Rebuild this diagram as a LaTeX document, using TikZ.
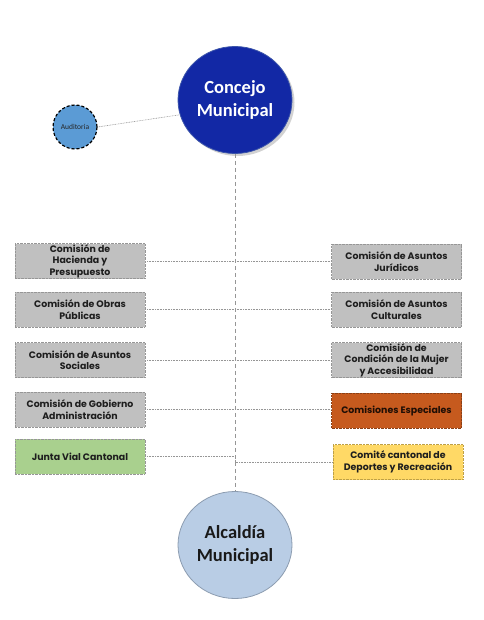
\documentclass[tikz,border=0pt]{standalone}
\usepackage{fontspec}
\setmainfont{Poppins}
\newfontfamily\carl{Carlito}
\usetikzlibrary{shapes.geometric,shadows}
\definecolor{concblue}{RGB}{18,40,165}
\definecolor{concedge}{RGB}{60,85,170}
\definecolor{alcfill}{RGB}{185,205,229}
\definecolor{alcedge}{RGB}{140,156,176}
\definecolor{audfill}{RGB}{91,155,213}
\definecolor{boxgray}{RGB}{192,192,192}
\definecolor{boxedge}{RGB}{150,150,150}
\definecolor{boxgreen}{RGB}{169,208,142}
\definecolor{boxorange}{RGB}{198,90,30}
\definecolor{boxyellow}{RGB}{255,217,102}
\definecolor{yellowedge}{RGB}{190,160,70}
\definecolor{txtdark}{RGB}{30,30,30}
\definecolor{linegray}{RGB}{150,150,150}
\begin{document}
\begin{tikzpicture}[x=1pt,y=-1pt,
  bigcirc/.style={ellipse, minimum width=114pt, minimum height=107pt, inner sep=0pt, align=center,
    font=\carl\bfseries\fontsize{18.5}{23}\selectfont},
  combox/.style={rectangle, minimum width=130pt, minimum height=35pt, inner sep=0pt, align=center,
    draw=boxedge, line width=0.6pt, dash pattern=on 0.7pt off 0.7pt, fill=boxgray, text=txtdark,
    font=\bfseries\fontsize{9.4}{11.5}\selectfont},
  conn/.style={draw=linegray, line width=0.6pt, dash pattern=on 0.8pt off 0.8pt},
  spine/.style={draw=linegray, line width=0.6pt, dash pattern=on 4pt off 3pt}]
\useasboundingbox (0,0) rectangle (483,620);
\fill[white] (0,0) rectangle (483,620);
% circles
\node[bigcirc, fill=concblue, draw=concedge, line width=0.8pt, text=white,
  drop shadow={shadow xshift=2.5pt, shadow yshift=-2.5pt, opacity=0.35}] (conc) at (235,100) {Concejo\\Municipal};
\node[bigcirc, fill=alcfill, draw=alcedge, line width=0.8pt, text=black!90] (alc) at (235,545) {Alcaldía\\Municipal};
\node[circle, minimum size=44pt, inner sep=0pt, fill=audfill, draw=black, line width=1.2pt,
  dash pattern=on 3pt off 2pt, font=\carl\fontsize{7.5}{8}\selectfont, text=black!85] (aud) at (75,127) {Auditoria};
% left boxes
\node[combox] (l1) at (80,261) {Comisión de\\Hacienda y\\Presupuesto};
\node[combox] (l2) at (80,309.5) {Comisión de Obras\\Públicas};
\node[combox] (l3) at (80,360) {Comisión de Asuntos\\Sociales};
\node[combox] (l4) at (80,409.5) {Comisión de Gobierno\\Administración};
\node[combox, fill=boxgreen] (l5) at (80,456.5) {Junta Vial Cantonal};
% right boxes
\node[combox] (r1) at (396.5,261.5) {Comisión de Asuntos\\Jurídicos};
\node[combox] (r2) at (396.5,309.5) {Comisión de Asuntos\\Culturales};
\node[combox] (r3) at (396.5,360) {Comisión de\\Condición de la Mujer\\y Accesibilidad};
\node[combox, fill=boxorange, draw=boxorange!70!black, text=black!85!boxorange] (r4) at (396.5,410.5) {Comisiones Especiales};
\node[combox, fill=boxyellow, draw=yellowedge] (r5) at (398,462) {Comité cantonal de\\Deportes y Recreación};
% spine coordinates
\coordinate (s5l) at (235,456.5);
\coordinate (s5r) at (235,462);
% connectors
\draw[spine] (conc.south) -- (alc.north);
\draw[conn] (aud.east) -- (conc.195);
\draw[conn] (l1.east) -- (r1.west |- l1.east);
\draw[conn] (l2.east) -- (r2.west);
\draw[conn] (l3.east) -- (r3.west);
\draw[conn] (l4.east) -- (r4.west |- l4.east);
\draw[conn] (l5.east) -- (s5l) -- (s5r) -- (r5.west);
\end{tikzpicture}
\end{document}
